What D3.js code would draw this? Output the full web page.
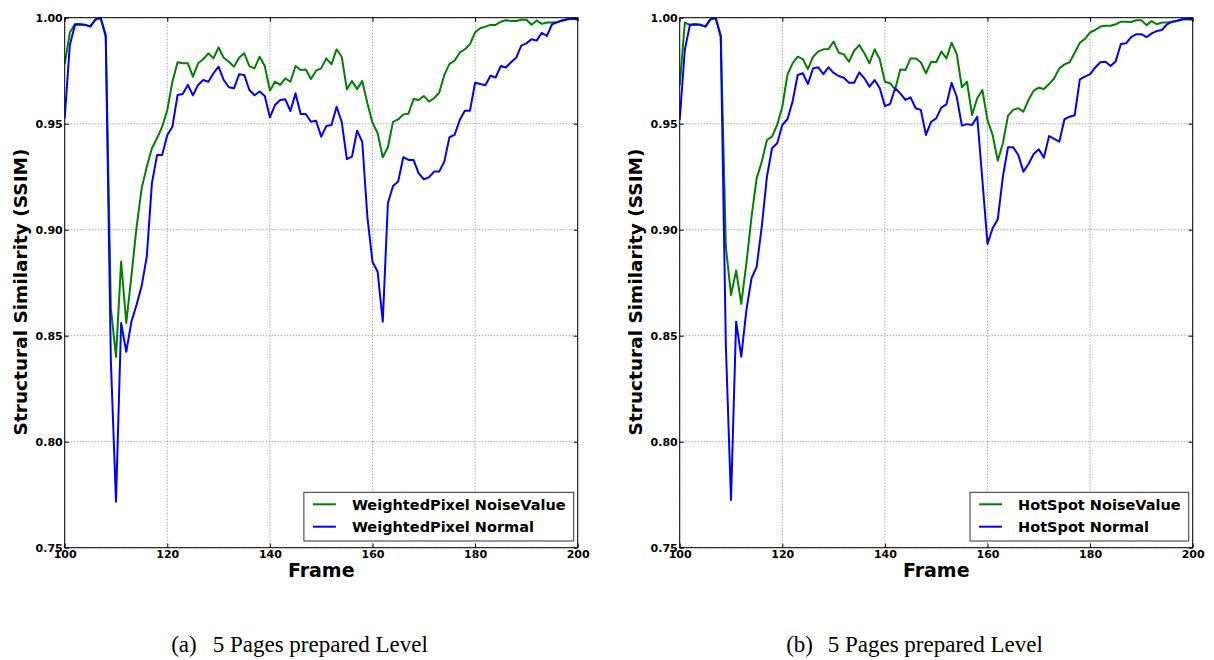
<!DOCTYPE html>
<html>
<head>
<meta charset="utf-8">
<script src="https://cdn.jsdelivr.net/npm/d3@7"></script>
<style>
  body { margin: 0; background: #fff; }
  svg { display: block; }
</style>
</head>
<body>
<div id="chart"></div>
<script>
const frames = d3.range(100, 201)
const xTicks = [100, 120, 140, 160, 180, 200]
const yTicks = [0.75, 0.80, 0.85, 0.90, 0.95, 1.00]

const wpNoise = [0.978,0.993,0.997,0.997,0.9965,0.996,0.999,1.0,0.992,0.863,
  0.840,0.885,0.856,0.878,0.901,0.9195,0.9297,0.9384,0.9431,0.9486,
  0.9565,0.9698,0.979,0.9785,0.9785,0.9722,0.9785,0.9804,0.9832,0.9808,
  0.986,0.9811,0.9792,0.9769,0.9811,0.9832,0.9772,0.9761,0.9816,0.9772,
  0.9656,0.9698,0.9683,0.9714,0.9698,0.9772,0.9753,0.9756,0.9711,0.975,
  0.9761,0.9808,0.978,0.9851,0.9816,0.9662,0.9701,0.9663,0.9701,0.9596,
  0.9505,0.9455,0.9342,0.9389,0.9509,0.952,0.9544,0.9547,0.9616,0.9612,
  0.9631,0.9604,0.962,0.9646,0.973,0.9782,0.9797,0.9835,0.9851,0.9875,
  0.9931,0.995,0.9958,0.9966,0.9966,0.9981,0.9988,0.9985,0.9984,0.999,
  0.999,0.9967,0.9987,0.9971,0.9977,0.9977,0.998,0.9988,0.9993,0.9995,0.999]

const wpNormal = [0.9525,0.9871,0.9966,0.9968,0.9967,0.9958,0.9992,1.0,0.991,0.838,
  0.7717,0.856,0.8424,0.8566,0.8645,0.8734,0.8873,0.9219,0.9352,0.9352,
  0.9447,0.9486,0.9635,0.964,0.9683,0.9634,0.9683,0.9706,0.9698,0.9738,
  0.9769,0.9706,0.9672,0.9667,0.9733,0.973,0.9659,0.9634,0.9652,0.9631,
  0.953,0.9588,0.9612,0.9615,0.956,0.9643,0.9546,0.9546,0.9509,0.9514,
  0.9439,0.9489,0.9494,0.958,0.9509,0.9333,0.9345,0.9467,0.9415,0.9061,
  0.8849,0.8802,0.8566,0.9125,0.9206,0.9227,0.9342,0.9329,0.9329,0.9266,
  0.9238,0.9247,0.9274,0.9274,0.9321,0.9436,0.9447,0.9517,0.9561,0.9561,
  0.9693,0.9687,0.9681,0.9726,0.9718,0.9772,0.9765,0.979,0.9811,0.9868,
  0.9879,0.9898,0.9892,0.9929,0.9914,0.9969,0.9978,0.9986,0.9993,0.9995,0.9995]

const hsNoise = [0.968,0.9976,0.9967,0.997,0.9967,0.9958,0.9992,1.0,0.9918,0.892,
  0.8692,0.8807,0.865,0.8841,0.9061,0.9242,0.9321,0.9423,0.9439,0.9494,
  0.958,0.973,0.9785,0.9816,0.9805,0.9757,0.9816,0.984,0.9851,0.9852,
  0.9887,0.9835,0.9827,0.9792,0.9844,0.9871,0.9832,0.9785,0.9851,0.9804,
  0.9698,0.9691,0.9662,0.9756,0.9753,0.9808,0.9808,0.979,0.9738,0.9792,
  0.979,0.984,0.9808,0.9882,0.9829,0.9672,0.9698,0.9541,0.962,0.9659,
  0.9517,0.9447,0.9325,0.9408,0.9538,0.9565,0.9573,0.9557,0.9612,0.9656,
  0.967,0.9664,0.9687,0.9714,0.9761,0.978,0.979,0.9835,0.9882,0.99,
  0.9931,0.9942,0.9958,0.9962,0.9962,0.9969,0.9981,0.9981,0.998,0.9988,
  0.9988,0.9965,0.9984,0.9969,0.9977,0.9977,0.998,0.9986,0.9993,0.9991,0.999]

const hsNormal = [0.9517,0.985,0.9966,0.9968,0.9967,0.9958,0.9992,1.0,0.991,0.845,
  0.7725,0.8566,0.8401,0.8621,0.8771,0.8825,0.9014,0.925,0.9384,0.9408,
  0.9494,0.9521,0.9604,0.973,0.9738,0.9687,0.9761,0.9766,0.9734,0.9766,
  0.974,0.9725,0.9717,0.9693,0.9693,0.9742,0.9714,0.9675,0.9706,0.9667,
  0.9583,0.9593,0.9667,0.9643,0.9612,0.9624,0.9573,0.9565,0.9447,0.9509,
  0.9525,0.9576,0.9591,0.9693,0.9627,0.9491,0.9498,0.9494,0.9533,0.9234,
  0.8933,0.9007,0.9049,0.925,0.9389,0.9389,0.9352,0.9274,0.931,0.9357,
  0.9379,0.934,0.9442,0.9428,0.9415,0.9521,0.9533,0.954,0.9709,0.9722,
  0.9734,0.9765,0.979,0.9792,0.9772,0.9795,0.9876,0.9879,0.9908,0.9922,
  0.9922,0.9908,0.9926,0.9937,0.9942,0.9969,0.9981,0.9986,0.9993,0.9995,0.9995]

const panels = [
  {id: 'a', left: 64.7, tag: '(a)', caption: '5 Pages prepared Level',
   series: [{name: 'WeightedPixel NoiseValue', values: wpNoise, color: '#008000'},
            {name: 'WeightedPixel Normal', values: wpNormal, color: '#0000ff'}]},
  {id: 'b', left: 679.7, tag: '(b)', caption: '5 Pages prepared Level',
   series: [{name: 'HotSpot NoiseValue', values: hsNoise, color: '#008000'},
            {name: 'HotSpot Normal', values: hsNormal, color: '#0000ff'}]}
]

const width = 1214, height = 660
const plotTop = 17.7, plotW = 513, plotH = 530
const font = '"DejaVu Sans", sans-serif'
const serif = '"Liberation Serif", "Times New Roman", serif'

const svg = d3.select('#chart').append('svg')
    .attr('width', width)
    .attr('height', height)

panels.forEach(p => {
  const x = d3.scaleLinear().domain([100, 200]).range([p.left, p.left + plotW])
  const y = d3.scaleLinear().domain([0.75, 1.0]).range([plotTop + plotH, plotTop])

  const g = svg.append('g')

  svg.append('clipPath').attr('id', 'clip-' + p.id)
    .append('rect')
      .attr('x', p.left).attr('y', plotTop)
      .attr('width', plotW).attr('height', plotH)

  // grid
  g.append('g').selectAll('line').data(xTicks).join('line')
      .attr('x1', d => x(d)).attr('x2', d => x(d))
      .attr('y1', plotTop).attr('y2', plotTop + plotH)
      .attr('stroke', '#808080').attr('stroke-width', 1)
      .attr('stroke-dasharray', '1,2')
  g.append('g').selectAll('line').data(yTicks).join('line')
      .attr('x1', p.left).attr('x2', p.left + plotW)
      .attr('y1', d => y(d)).attr('y2', d => y(d))
      .attr('stroke', '#808080').attr('stroke-width', 1)
      .attr('stroke-dasharray', '1,2')

  // lines
  const line = d3.line()
      .x((d, i) => x(frames[i]))
      .y(d => y(d))

  g.append('g').attr('clip-path', `url(#clip-${p.id})`)
    .selectAll('path')
    .data(p.series)
    .join('path')
      .attr('fill', 'none')
      .attr('stroke', d => d.color)
      .attr('stroke-width', 2)
      .attr('stroke-linejoin', 'round')
      .attr('d', d => line(d.values))

  // axes, ticks pointing inward like matplotlib classic
  const styleAxis = a => {
    a.selectAll('.domain').remove()
    a.selectAll('.tick line').attr('stroke', '#000')
    a.selectAll('text')
      .attr('font-family', font)
      .attr('font-weight', 'bold')
      .attr('font-size', 11)
      .attr('fill', '#000')
  }

  g.append('g')
      .attr('transform', `translate(0,${plotTop + plotH})`)
      .call(d3.axisBottom(x).tickValues(xTicks).tickSize(-4).tickPadding(3)
        .tickFormat(d3.format('d')))
      .call(styleAxis)
  g.append('g')
      .attr('transform', `translate(0,${plotTop})`)
      .call(d3.axisTop(x).tickValues(xTicks).tickSize(-4).tickFormat(''))
      .call(styleAxis)
  g.append('g')
      .attr('transform', `translate(${p.left},0)`)
      .call(d3.axisLeft(y).tickValues(yTicks).tickSize(-4).tickPadding(2)
        .tickFormat(d3.format('.2f')))
      .call(styleAxis)
  g.append('g')
      .attr('transform', `translate(${p.left + plotW},0)`)
      .call(d3.axisRight(y).tickValues(yTicks).tickSize(-4).tickFormat(''))
      .call(styleAxis)

  g.append('rect')
      .attr('x', p.left).attr('y', plotTop)
      .attr('width', plotW).attr('height', plotH)
      .attr('fill', 'none').attr('stroke', '#000').attr('stroke-width', 1)

  // axis labels
  g.append('text')
      .attr('x', p.left + plotW / 2)
      .attr('y', 577)
      .attr('text-anchor', 'middle')
      .attr('font-family', font).attr('font-weight', 'bold').attr('font-size', 19)
      .text('Frame')
  g.append('text')
      .attr('transform', `translate(${p.left - 44},292) rotate(-90)`)
      .attr('text-anchor', 'middle')
      .attr('dominant-baseline', 'central')
      .attr('font-family', font).attr('font-weight', 'bold').attr('font-size', 18.5)
      .text('Structural Similarity (SSIM)')

  // legend
  const lg = g.append('g')
  const box = lg.append('rect')
      .attr('fill', '#fff').attr('stroke', '#333').attr('stroke-width', 1)
  const rows = lg.selectAll('g.row')
    .data(p.series)
    .join('g')
      .attr('class', 'row')
      .attr('transform', (d, i) => `translate(0,${504.3 + i * 22.4})`)
  rows.append('line')
      .attr('x1', 9).attr('x2', 32)
      .attr('stroke', d => d.color).attr('stroke-width', 2)
  const labels = rows.append('text')
      .attr('x', 48)
      .attr('dy', '0.36em')
      .attr('font-family', font).attr('font-weight', 'bold').attr('font-size', 14.5)
      .text(d => d.name)
  const tw = d3.max(labels.nodes(), n => n.getComputedTextLength())
  const boxW = 48 + tw + 8
  const boxX = p.left + plotW - 4 - boxW
  box.attr('x', 0).attr('y', 492.3).attr('width', boxW).attr('height', 48.7)
  lg.attr('transform', `translate(${boxX},0)`)

  // caption
  const cap = svg.append('text')
      .attr('y', 652)
      .attr('font-family', serif)
      .attr('font-size', 23)
  cap.append('tspan').attr('x', p.left + 106.5).text(p.tag)
  cap.append('tspan').attr('x', p.left + 148).text(p.caption)
})
</script>
</body>
</html>
